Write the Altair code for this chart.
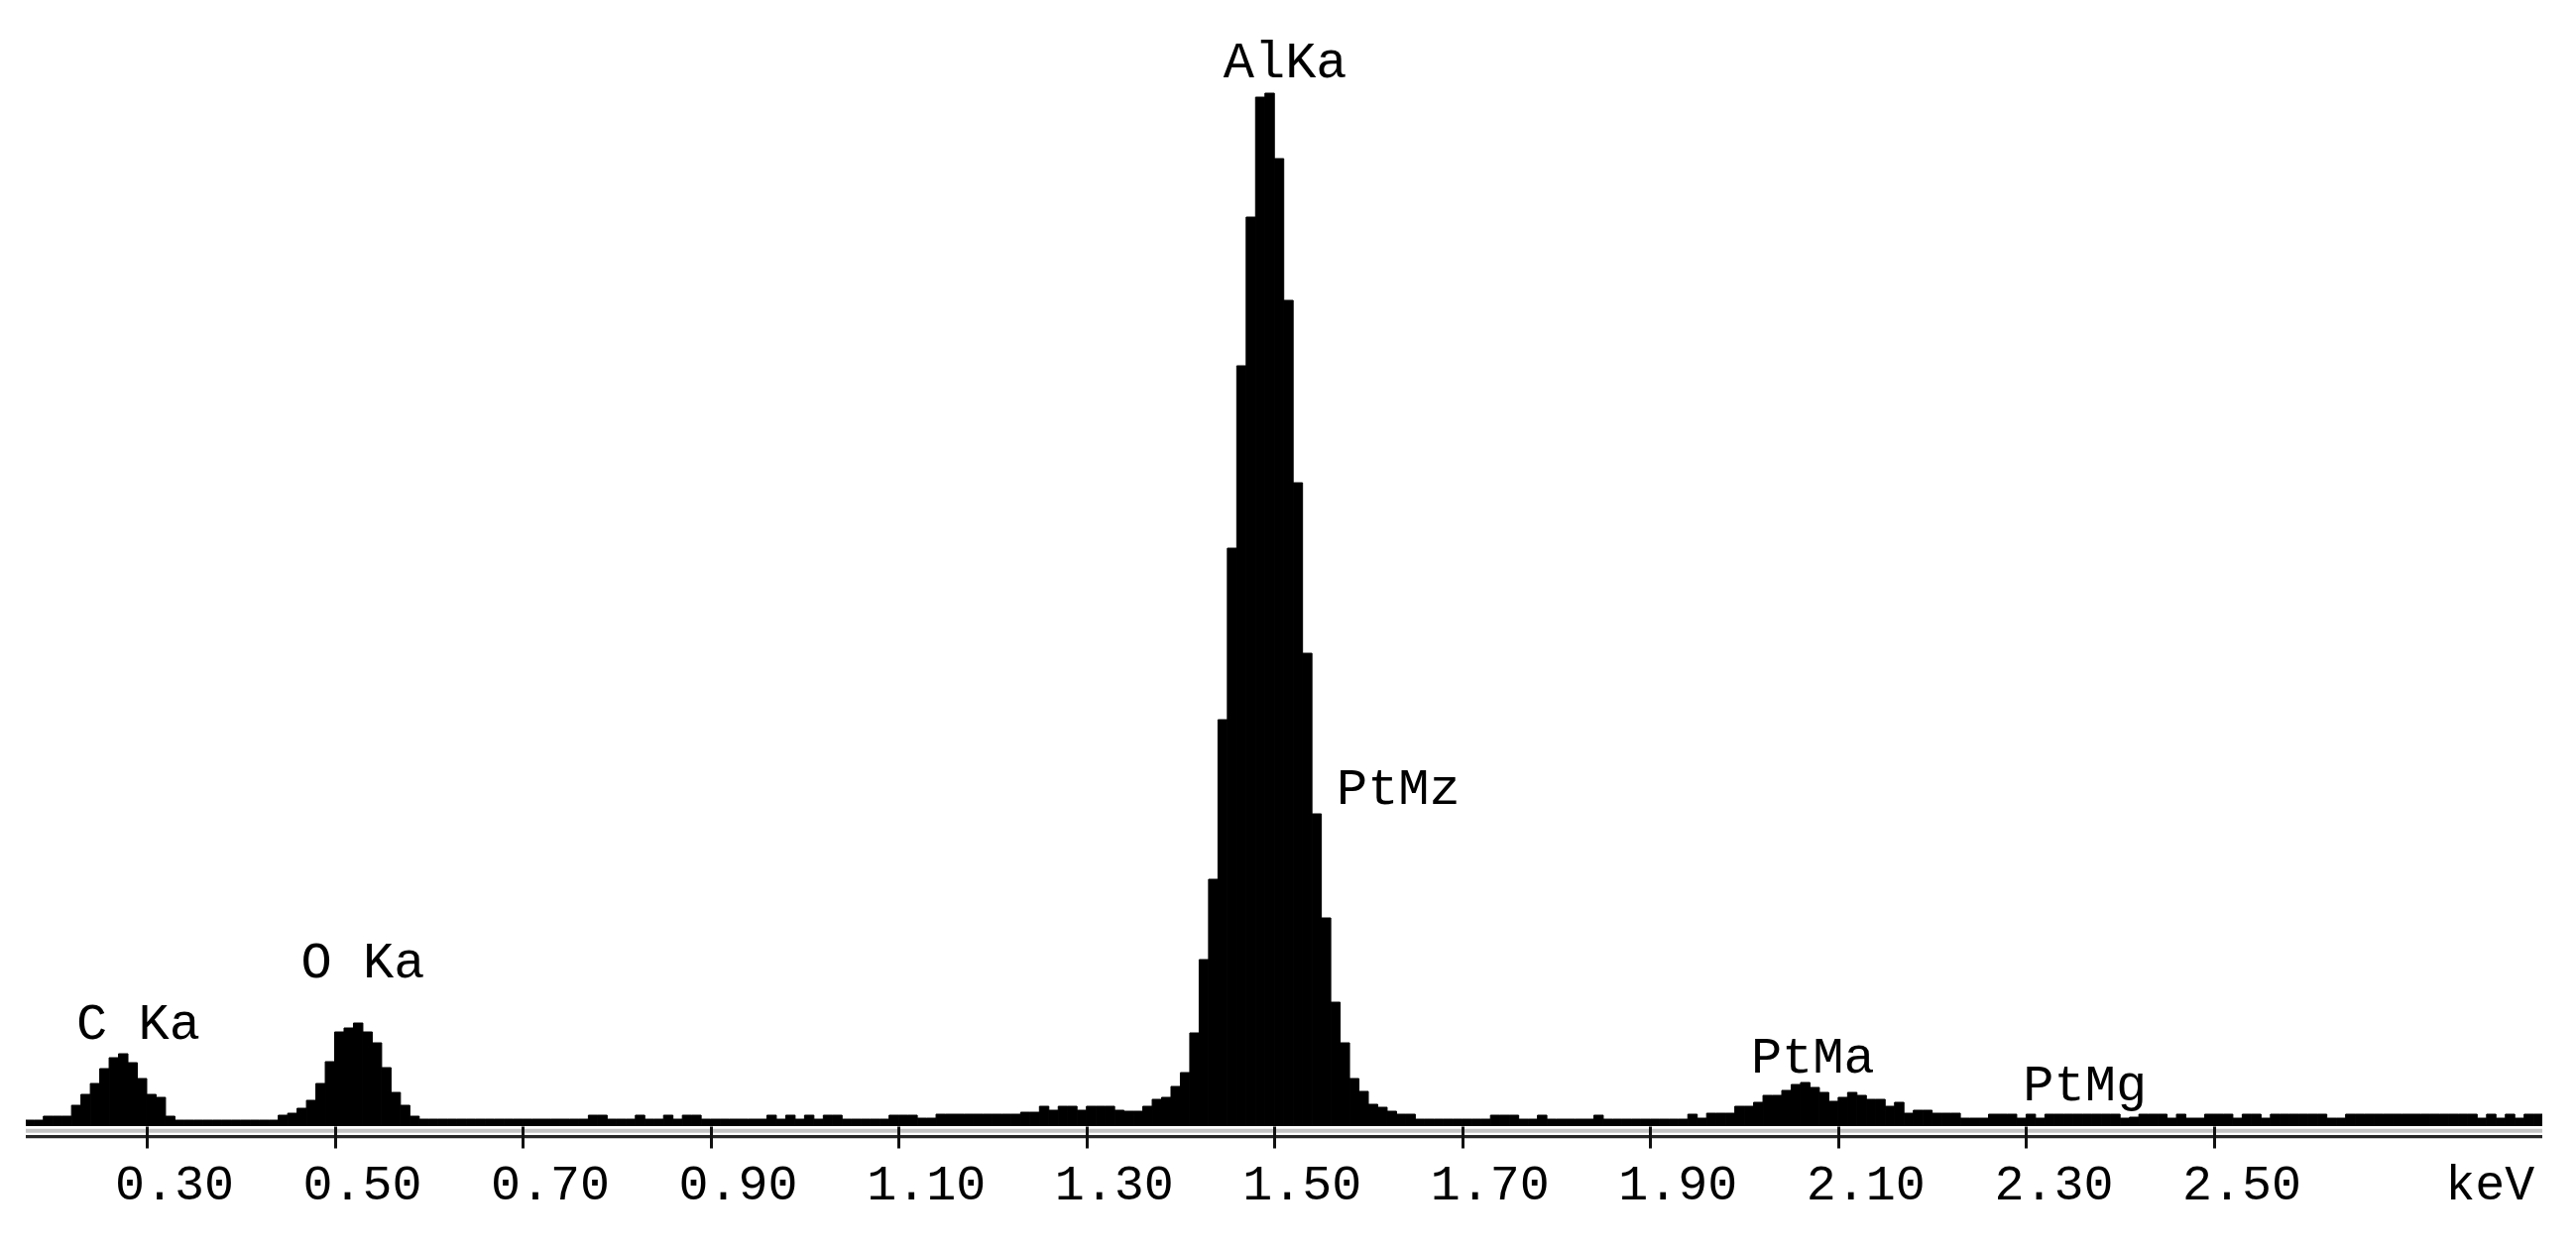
import altair as alt
import pandas as pd

# EDS spectrum: counts per 10 eV channel, first channel starts at 0.17 keV
E_START = 0.17
CH_WIDTH = 0.01
counts = [
    6, 6, 10, 10, 10, 21, 32, 43, 58, 69,            # 0.17
    73, 64, 48, 32, 29, 10, 6, 6, 6, 6,              # 0.27
    6, 6, 6, 6, 6, 6, 6, 11, 13, 18,                 # 0.37
    26, 43, 65, 95, 99, 104, 95, 84, 59, 34,         # 0.47
    21, 10, 7, 7, 7, 7, 7, 7, 7, 7,                  # 0.57
    7, 7, 7, 7, 7, 7, 7, 7, 7, 7,                    # 0.67
    11, 11, 7, 7, 7, 11, 7, 7, 11, 7,                # 0.77
    11, 11, 7, 7, 7, 7, 7, 7, 7, 11,                 # 0.87
    7, 11, 7, 11, 7, 11, 11, 7, 7, 7,                # 0.97
    7, 7, 11, 11, 11, 8, 8, 12, 12, 12,              # 1.07
    12, 12, 12, 12, 12, 12, 14, 14, 20, 16,          # 1.17
    20, 20, 16, 20, 20, 20, 16, 15, 15, 20,          # 1.27
    27, 29, 40, 54, 94, 168, 249, 410, 583, 767,     # 1.37
    917, 1038, 1042, 976, 833, 649, 477, 315, 210, 125,  # 1.47
    84, 48, 35, 22, 19, 15, 12, 12, 7, 7,            # 1.57
    7, 7, 7, 7, 7, 7, 11, 11, 11, 7,                 # 1.67
    7, 11, 7, 7, 7, 7, 7, 11, 7, 7,                  # 1.77
    7, 7, 7, 7, 7, 7, 7, 12, 8, 13,                  # 1.87
    13, 13, 20, 20, 24, 31, 31, 36, 42, 44,          # 1.97
    39, 34, 25, 29, 34, 31, 27, 27, 20, 24,          # 2.07
    13, 16, 16, 13, 13, 13, 8, 8, 8, 12,             # 2.17
    12, 12, 8, 12, 8, 12, 12, 12, 12, 12,            # 2.27
    12, 12, 12, 8, 9, 12, 12, 12, 8, 12,             # 2.37
    8, 8, 12, 12, 12, 8, 12, 12, 8, 12,              # 2.47
    12, 12, 12, 12, 12, 8, 8, 12, 12, 12,            # 2.57
    12, 12, 12, 12, 12, 12, 12, 12, 12, 12,          # 2.67
    12, 8, 12, 8, 12, 8, 12, 12,                     # 2.77
]

# Peak labels
peak_labels = ["C Ka", "O Ka", "AlKa", "PtMz", "PtMa", "PtMg"]
peak_label_kev = [0.291, 0.530, 1.5115, 1.632, 2.073, 2.3626]
peak_label_level = [88, 150, 1058, 325, 54, 26]

# Axis ticks
tick_values = [0.30, 0.50, 0.70, 0.90, 1.10, 1.30, 1.50, 1.70, 1.90, 2.10, 2.30, 2.50]
tick_labels = ["0.30", "0.50", "0.70", "0.90", "1.10", "1.30", "1.50", "1.70", "1.90", "2.10", "2.30", "2.50"]
unit_label = "keV"
unit_label_kev = 2.7936
x_domain = [0.1713, 2.8493]
y_domain = [0, 1116]

W, H = 2538, 1116
FONT = "Liberation Mono"

spec = pd.DataFrame({
    "e0": [round(E_START + CH_WIDTH * i, 2) for i in range(len(counts))],
    "count": counts,
})
spec["e1"] = spec["e0"] + CH_WIDTH

labels = pd.DataFrame({"text": peak_labels, "kev": peak_label_kev, "level": peak_label_level})
ticks = pd.DataFrame({"kev": tick_values, "text": tick_labels})
unit = pd.DataFrame({"kev": [unit_label_kev], "text": [unit_label]})

xscale = alt.Scale(domain=x_domain, nice=False, zero=False)
yscale = alt.Scale(domain=y_domain, nice=False, zero=False)

xaxis = alt.Axis(
    values=tick_values, grid=False, domain=False, labels=False, title=None,
    tickSize=22, tickWidth=3, tickColor="#111111", zindex=1,
)

bars = alt.Chart(spec).mark_rect(color="#000000", stroke="#000000", strokeWidth=1, clip=True).encode(
    x=alt.X("e0:Q", scale=xscale, axis=xaxis),
    x2="e1:Q",
    y=alt.Y("count:Q", scale=yscale, axis=None),
    y2=alt.datum(0),
)

line_light = alt.Chart(pd.DataFrame({"k": [0]})).mark_rule(color="#c4c4c4", strokeWidth=4).encode(
    x=alt.value(0), x2=alt.value(W), y=alt.value(H + 4.7)
)
line_dark = alt.Chart(pd.DataFrame({"k": [0]})).mark_rule(color="#262626", strokeWidth=3.3).encode(
    x=alt.value(0), x2=alt.value(W), y=alt.value(H + 10.7)
)

text = alt.Chart(labels).mark_text(
    font=FONT, fontSize=52, color="#000000", align="center", baseline="alphabetic"
).encode(
    x=alt.X("kev:Q", scale=xscale),
    y=alt.Y("level:Q", scale=yscale),
    text="text:N",
)

tick_text = alt.Chart(ticks).mark_text(
    font=FONT, fontSize=50, color="#000000", align="center", baseline="alphabetic", dx=28
).encode(
    x=alt.X("kev:Q", scale=xscale),
    y=alt.value(H + 74),
    text="text:N",
)

unit_text = alt.Chart(unit).mark_text(
    font=FONT, fontSize=50, color="#000000", align="center", baseline="alphabetic"
).encode(
    x=alt.X("kev:Q", scale=xscale),
    y=alt.value(H + 74),
    text="text:N",
)

chart = alt.layer(line_light, line_dark, bars, text, tick_text, unit_text).properties(
    width=W, height=H,
    padding={"left": 16, "top": 12, "right": 20, "bottom": 10},
    background="#ffffff",
).configure_view(stroke=None)

chart.save("out.html", embed_options={"renderer": "svg", "actions": False})
